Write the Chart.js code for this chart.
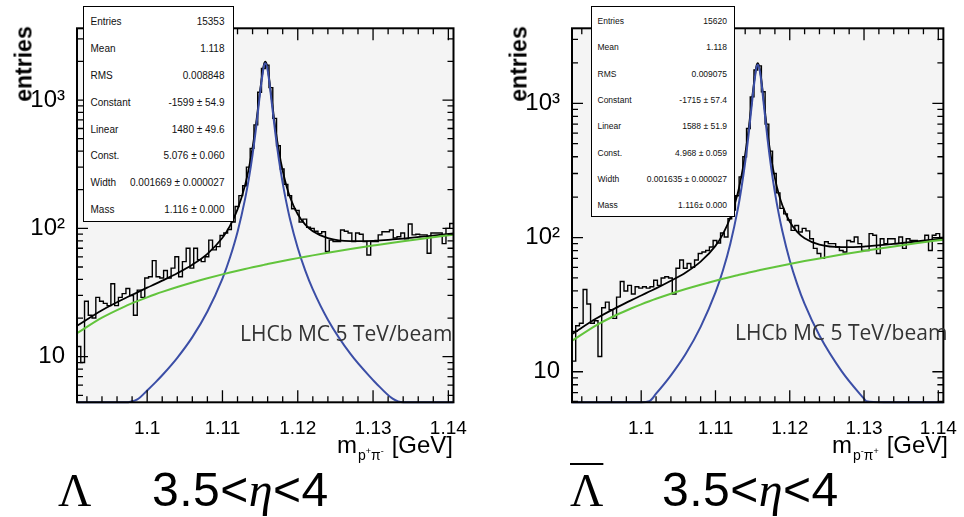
<!DOCTYPE html>
<html>
<head>
<meta charset="utf-8">
<script src="https://cdn.jsdelivr.net/npm/chart.js@4.4.1/dist/chart.umd.min.js"></script>
<style>
  html, body { margin: 0; padding: 0; background: #fff; }
  #page { position: relative; width: 964px; height: 517px; overflow: hidden; font-family: "Liberation Sans", Arial, sans-serif; color: #000; }
  canvas { position: absolute; top: 0; }
  .stats { position: absolute; background: #fff; border: 1.5px solid #000; box-sizing: border-box; color: #111; }
  .stats .row { display: flex; justify-content: space-between; align-items: center; }
  .lhcb { position: absolute; font-family: "Open Sans", sans-serif; font-size: 21px; line-height: 1; color: #333; white-space: nowrap; }
  .ytitle { position: absolute; font-weight: bold; font-size: 23px; line-height: 1; transform: translate(-50%, -50%) rotate(-90deg); white-space: nowrap; }
  .xtitle { position: absolute; font-size: 24px; line-height: 1; white-space: nowrap; }
  .xtitle .sub { font-size: 14px; position: relative; top: 7px; margin: 0 8px 0 1px; }
  .xtitle .sub sup { font-size: 9px; vertical-align: 0; position: relative; top: -6px; }
  .big { position: absolute; font-size: 48px; line-height: 1; white-space: nowrap; letter-spacing: 0.5px; }
  .serif { font-family: "Liberation Serif", "Times New Roman", serif; letter-spacing: 0; }
  .bar { text-decoration-line: overline; text-decoration-thickness: 2px; }
  .eta { font-family: "Liberation Serif", "Times New Roman", serif; font-style: italic; }
</style>
</head>
<body>
<div id="page">
  <canvas id="lambda-chart" width="482" height="517" style="left:0"></canvas>
  <canvas id="anti-chart" width="482" height="517" style="left:482px"></canvas>

  <div class="ytitle" style="left:23.5px;top:63.5px">entries</div>
  <div class="ytitle" style="left:518.5px;top:63.5px">entries</div>

  <div class="lhcb" style="left:240px;top:323px">LHCb MC 5 TeV/beam</div>
  <div class="lhcb" style="left:735px;top:322px">LHCb MC 5 TeV/beam</div>

  <div class="xtitle" style="right:511px;top:433px">m<span class="sub">p<sup>+</sup>π<sup>-</sup></span>[GeV]</div>
  <div class="xtitle" style="right:16px;top:433px">m<span class="sub">p<sup>-</sup>π<sup>+</sup></span>[GeV]</div>

  <div class="big serif" style="left:58px;top:468px;font-size:46px">Λ</div>
  <div class="big" style="left:152px;top:466px">3.5&lt;<span class="eta">η</span>&lt;4</div>
  <div class="big serif" style="left:570px;top:468px;font-size:46px"><span class="bar">Λ</span></div>
  <div class="big" style="left:662px;top:466px">3.5&lt;<span class="eta">η</span>&lt;4</div>
</div>

<script>
const binLow = 1.090683;
const binWidth = 0.0005;

const lambdaCounts = [
    12, 9, 27, 21, 20, 29, 27, 26, 25, 37,
    25, 29, 31, 34, 30, 21, 33, 29, 41, 42,
    56, 42, 41, 47, 41, 49, 60, 42, 55, 70,
    49, 70, 57, 55, 60, 81, 68, 72, 88, 92,
    98, 112, 148, 180, 215, 300, 420, 640, 1150, 1760,
    1870, 1250, 720, 440, 290, 220, 180, 142, 138, 112,
    118, 102, 100, 95, 91, 94, 66, 81, 79, 79,
    97, 95, 92, 79, 92, 90, 79, 62, 79, 79,
    89, 94, 94, 97, 84, 86, 92, 83, 108, 89,
    90, 89, 89, 64, 92, 92, 92, 76, 100, 109
];

const antiLambdaCounts = [
    12, 22, 23, 41, 32, 23, 24, 13, 30, 33,
    29, 25, 36, 47, 40, 44, 38, 43, 42, 43,
    42, 43, 48, 44, 50, 51, 50, 38, 59, 68,
    59, 64, 60, 68, 76, 78, 80, 85, 95, 91,
    108, 101, 138, 160, 205, 283, 400, 650, 1117, 1770,
    1900, 1220, 700, 440, 300, 215, 165, 150, 135, 113,
    123, 110, 117, 112, 98, 83, 76, 70, 93, 90,
    90, 85, 80, 78, 95, 93, 101, 90, 80, 80,
    107, 104, 76, 98, 90, 98, 98, 90, 101, 83,
    98, 95, 95, 93, 93, 104, 80, 104, 107, 100
];

// fit curves read at these masses
const curveMass = [
    1.0907, 1.094, 1.097, 1.0987, 1.1, 1.1011, 1.102, 1.104, 1.106, 1.108,
    1.11, 1.111, 1.112, 1.113, 1.1135, 1.114, 1.1145, 1.115, 1.1155, 1.1157,
    1.116, 1.1165, 1.117, 1.1175, 1.118, 1.1185, 1.119, 1.12, 1.121, 1.122,
    1.124, 1.127, 1.13, 1.1303, 1.1326, 1.134, 1.137, 1.1407
];

const lambdaTotalFit = [
    17.4, 23.0, 28.4, 31.7, 34.5, 36.9, 39.1, 44.7, 52.1, 63.3,
    84.4, 104.5, 140.5, 217, 292, 426, 681, 1188, 1884, 1988,
    1768, 1062, 619, 397, 281, 214, 173, 128.8, 106.9, 95.0,
    83.9, 79.5, 80.0, 80.1, 82.0, 83.3, 86.7, 91.4
];
const lambdaSignalFit = [
    4.41, 4.41, 4.41, 4.65, 5.45, 6.3, 7.16, 9.8, 14.2, 22.5,
    40.6, 59.2, 93.7, 169, 243, 376, 631, 1137, 1832, 1936,
    1715, 1009, 565, 342, 225, 158, 116, 70.2, 46.8, 33.4,
    19.4, 10.5, 6.57, 6.3, 4.71, 4.41, 4.41, 4.41
];
const lambdaBkgFit = [
    15.24, 20.12, 24.56, 27.08, 29.0, 30.63, 31.96, 34.92, 37.88, 40.84,
    43.8, 45.28, 46.76, 48.24, 48.98, 49.72, 50.46, 51.2, 51.94, 52.24,
    52.68, 53.42, 54.16, 54.9, 55.64, 56.38, 57.12, 58.6, 60.08, 61.56,
    64.52, 68.96, 73.4, 73.84, 77.25, 79.32, 83.76, 89.24
];

const antiTotalFit = [
    19.1, 25.0, 30.7, 34.2, 37.0, 39.6, 41.8, 47.6, 54.9, 66.1,
    86.7, 106.1, 140.9, 214, 288, 417, 668, 1172, 1882, 1992,
    1763, 1046, 607, 391, 277, 213, 174, 131, 110.2, 98.7,
    88.5, 84.8, 85.7, 86.0, 88.1, 89.6, 93.4, 98.5
];
const antiSignalFit = [
    5.92, 5.92, 5.92, 5.92, 5.92, 6.04, 6.86, 9.4, 13.6, 21.6,
    39.0, 56.8, 90.0, 162, 235, 363, 613, 1116, 1826, 1935,
    1706, 988, 548, 331, 217, 152, 112, 67.5, 45.0, 32.0,
    18.6, 10.07, 6.3, 6.04, 5.92, 5.92, 5.92, 5.92
];
const antiBkgFit = [
    17.03, 22.27, 27.04, 29.74, 31.8, 33.55, 34.98, 38.15, 41.33, 44.5,
    47.68, 49.27, 50.86, 52.44, 53.24, 54.03, 54.83, 55.62, 56.41, 56.73,
    57.21, 58.0, 58.8, 59.59, 60.38, 61.18, 61.97, 63.56, 65.15, 66.74,
    69.91, 74.68, 79.44, 79.92, 83.57, 85.79, 90.56, 96.43
];

const xTickValues = [1.1, 1.11, 1.12, 1.13, 1.14];
const xTickLabels = ['1.1', '1.11', '1.12', '1.13', '1.14'];
const xMinorTicks = [
    1.092, 1.094, 1.096, 1.098, 1.102, 1.104, 1.106, 1.108, 1.112, 1.114,
    1.116, 1.118, 1.122, 1.124, 1.126, 1.128, 1.132, 1.134, 1.136, 1.138, 1.14
];
const yTickValues = [10, 100, 1000];
const yTickLabels = ['10', '10²', '10³'];
const yMinorTicks = [5, 6, 7, 8, 9, 20, 30, 40, 50, 60, 70, 80, 90, 200, 300, 400, 500, 600, 700, 800, 900, 2000, 3000];

const statLabels = ['Entries', 'Mean', 'RMS', 'Constant', 'Linear', 'Const.', 'Width', 'Mass'];
const lambdaStats = ['15353', '1.118', '0.008848', '-1599 ± 54.9', '1480 ± 49.6', '5.076 ± 0.060', '0.001669 ± 0.000027', '1.116 ± 0.000'];
const antiLambdaStats = ['15620', '1.118', '0.009075', '-1715 ± 57.4', '1588 ± 51.9', '4.968 ± 0.059', '0.001635 ± 0.000027', '1.116± 0.000'];

Chart.defaults.font.family = '"Liberation Sans", Arial, sans-serif';
Chart.defaults.color = '#000';

// ROOT style frame: grey fill, ticks drawn inward on all four sides
const rootFrame = {
    id: 'rootFrame',
    beforeDatasetsDraw(chart) {
        const { ctx, chartArea: a } = chart;
        ctx.save();
        ctx.fillStyle = '#f4f4f4';
        ctx.fillRect(a.left, a.top, a.width, a.height);
        ctx.restore();
    },
    afterDatasetsDraw(chart) {
        const { ctx, chartArea: a, scales } = chart;
        const line = (x1, y1, x2, y2) => { ctx.moveTo(x1, y1); ctx.lineTo(x2, y2); };
        ctx.save();
        ctx.beginPath();
        ctx.strokeStyle = '#000';
        ctx.lineWidth = 1.3;
        const xTick = (v, len) => {
            const px = scales.x.getPixelForValue(v);
            line(px, a.bottom, px, a.bottom - len);
            line(px, a.top, px, a.top + len);
        };
        const yTick = (v, len) => {
            if (v < scales.y.min || v > scales.y.max) return;
            const py = scales.y.getPixelForValue(v);
            line(a.left, py, a.left + len, py);
            line(a.right, py, a.right - len, py);
        };
        xMinorTicks.forEach(v => xTick(v, 6));
        xTickValues.forEach(v => xTick(v, 12));
        yMinorTicks.forEach(v => yTick(v, 6));
        yTickValues.forEach(v => yTick(v, 11));
        ctx.stroke();
        ctx.lineWidth = 2;
        ctx.strokeRect(a.left, a.top, a.width, a.height);
        ctx.restore();
    }
};

function drawPanel(canvasId, counts, totalFit, signalFit, bkgFit, yMin, yAxisWidth, rightPad) {
    const histPoints = counts.map((c, i) => ({ x: binLow + i * binWidth, y: c }));
    histPoints.push({ x: binLow + counts.length * binWidth, y: counts[counts.length - 1] });
    const curve = vals => vals.map((v, i) => ({ x: curveMass[i], y: v }));

    return new Chart(document.getElementById(canvasId), {
        type: 'line',
        data: {
            datasets: [
                { data: curve(bkgFit), borderColor: '#62c43c', borderWidth: 2, pointRadius: 0, cubicInterpolationMode: 'monotone' },
                { data: curve(signalFit), borderColor: '#3b4ea6', borderWidth: 2, pointRadius: 0, cubicInterpolationMode: 'monotone', clip: { left: 0, top: 0, right: 0, bottom: 2 } },
                { data: curve(totalFit), borderColor: '#000', borderWidth: 1.8, pointRadius: 0, cubicInterpolationMode: 'monotone' },
                { data: histPoints, borderColor: '#000', borderWidth: 1.4, pointRadius: 0, stepped: true }
            ]
        },
        options: {
            responsive: false,
            animation: false,
            events: [],
            layout: { padding: { left: 0, top: 28.3, right: rightPad, bottom: 0 } },
            plugins: { legend: { display: false }, tooltip: { enabled: false } },
            scales: {
                x: {
                    type: 'linear',
                    min: binLow,
                    max: binLow + counts.length * binWidth,
                    grid: { display: false },
                    border: { display: false },
                    afterBuildTicks: axis => { axis.ticks = xTickValues.map(v => ({ value: v })); },
                    afterFit: axis => { axis.height = 114.7; },
                    ticks: {
                        callback: v => xTickLabels[xTickValues.indexOf(v)],
                        font: { size: 19 },
                        color: '#000',
                        padding: 7,
                        maxRotation: 0,
                        autoSkip: false
                    }
                },
                y: {
                    type: 'logarithmic',
                    min: yMin,
                    max: 3622,
                    grid: { display: false },
                    border: { display: false },
                    afterBuildTicks: axis => { axis.ticks = yTickValues.map(v => ({ value: v })); },
                    afterFit: axis => { axis.width = yAxisWidth; },
                    ticks: {
                        callback: v => yTickLabels[yTickValues.indexOf(v)],
                        font: { size: 24 },
                        color: '#000',
                        padding: 4,
                        autoSkip: false
                    }
                }
            }
        },
        plugins: [rootFrame]
    });
}

function buildStats(box, values) {
    const el = document.createElement('div');
    el.className = 'stats';
    Object.assign(el.style, {
        left: box.left + 'px', top: box.top + 'px', width: box.width + 'px', height: box.height + 'px',
        fontSize: box.font + 'px', paddingTop: '1px'
    });
    statLabels.forEach((label, i) => {
        const row = document.createElement('div');
        row.className = 'row';
        row.style.height = box.row + 'px';
        row.style.padding = `0 ${box.padR}px 0 ${box.padL}px`;
        const name = document.createElement('span');
        name.textContent = label;
        const val = document.createElement('span');
        val.textContent = values[i];
        row.appendChild(name);
        row.appendChild(val);
        el.appendChild(row);
    });
    document.getElementById('page').appendChild(el);
}

drawPanel('lambda-chart', lambdaCounts, lambdaTotalFit, lambdaSignalFit, lambdaBkgFit, 4.41, 77, 28.5);
drawPanel('anti-chart', antiLambdaCounts, antiTotalFit, antiSignalFit, antiBkgFit, 5.92, 90, 15.5);

buildStats({ left: 83, top: 6, width: 151, height: 216, font: 10, row: 26.9, padL: 6.5, padR: 8.5 }, lambdaStats);
buildStats({ left: 591, top: 6, width: 144, height: 211, font: 8.5, row: 26.3, padL: 5.5, padR: 7 }, antiLambdaStats);
</script>
</body>
</html>
